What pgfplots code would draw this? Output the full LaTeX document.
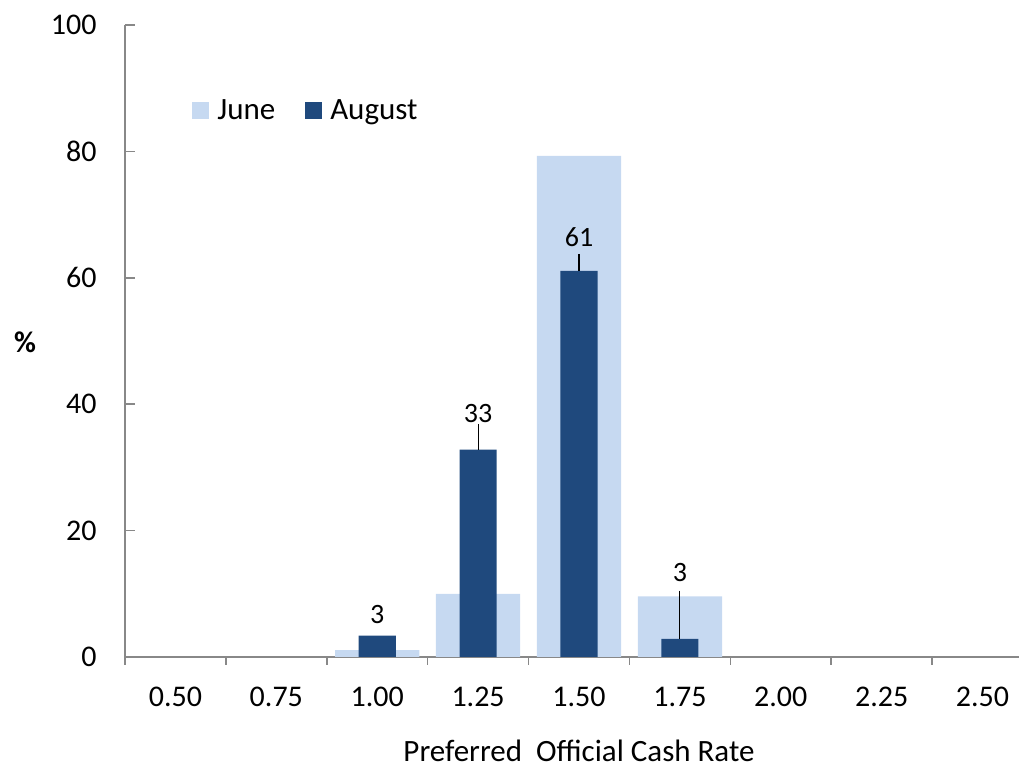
\documentclass[border=0pt]{standalone}
\usepackage{fontspec}
\setmainfont{Carlito}
\usepackage{pgfplots}
\pgfplotsset{compat=1.18}
\definecolor{juneblue}{HTML}{C6D9F1}
\definecolor{augblue}{HTML}{1F497D}
\definecolor{axgray}{HTML}{888888}
\begin{document}
\begin{tikzpicture}
\begin{axis}[
  scale only axis,
  width=454pt, height=316pt,
  at={(0,0)}, anchor=south west,
  clip=false,
  xmin=-0.5, xmax=8.5, ymin=0, ymax=100,
  axis x line*=bottom, axis y line*=left,
  axis line style={axgray, line width=0.8pt},
  ybar,
  xtick={0,...,8},
  xticklabels={0.50,0.75,1.00,1.25,1.50,1.75,2.00,2.25,2.50},
  major x tick style={draw=none},
  minor xtick={-0.5,0.5,...,8.5},
  minor tick length=4pt,
  minor x tick style={axgray, line width=0.8pt, yshift=-4pt},
  ytick={0,20,...,100},
  tick align=inside,
  major tick length=5pt,
  y tick style={axgray, line width=0.8pt},
  tick label style={font=\fontsize{15}{17}\selectfont},
  /pgf/number format/assume math mode=true,
  yticklabel style={inner sep=0pt, anchor=east, xshift=-14pt},
  xticklabel style={inner sep=0pt, anchor=center, yshift=-20pt},
  legend style={draw=none, fill=none, inner sep=0pt, at={(0.0738,0.864)}, anchor=west,
    legend columns=2, font=\fontsize{15.5}{17}\selectfont,
    nodes={inner xsep=4pt},
    /tikz/every even column/.append style={column sep=11pt}},
  legend image code/.code={\fill[#1] (0pt,-4.25pt) rectangle (8.5pt,4.25pt);},
  legend cell align=left,
]
\addplot[fill=juneblue, draw=none, bar width=0.835, bar shift=0pt] coordinates {
 (2,1.1) (3,10.0) (4,79.3) (5,9.6)};
\addlegendentry{June}
\addplot[fill=augblue, draw=none, bar width=0.368, bar shift=0pt] coordinates {
 (2,3.4) (3,32.8) (4,61.1) (5,2.85)};
\addlegendentry{August}
\draw[black, line width=0.6pt] (axis cs:3,36.9) -- (axis cs:3,32.8);
\draw[black, line width=0.6pt] (axis cs:4,63.8) -- (axis cs:4,61.1);
\draw[black, line width=0.6pt] (axis cs:5,10.5) -- (axis cs:5,2.85);
\node[font=\fontsize{14}{16}\selectfont] at (axis cs:2,6.8) {3};
\node[font=\fontsize{14}{16}\selectfont] at (axis cs:3,38.6) {33};
\node[font=\fontsize{14}{16}\selectfont] at (axis cs:4,66.5) {61};
\node[font=\fontsize{14}{16}\selectfont] at (axis cs:5,13.4) {3};
\node[font=\bfseries\fontsize{15}{17}\selectfont] at (axis description cs:-0.110,0.498) {\%};
\node[font=\fontsize{15.5}{17}\selectfont] at (axis description cs:0.5,-0.148) {Preferred\ \ Official Cash Rate};
\end{axis}
\pgfresetboundingbox
\useasboundingbox (-62.5pt,-56pt) rectangle (447pt,328.5pt);
\end{tikzpicture}
\end{document}
